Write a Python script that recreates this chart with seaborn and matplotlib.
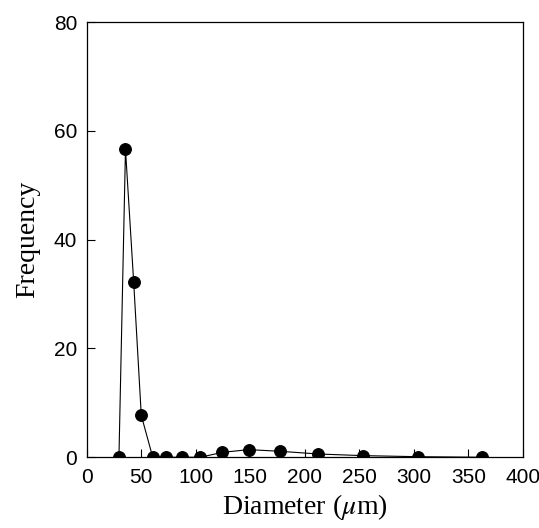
import numpy as np
import pandas as pd
import matplotlib
matplotlib.use("Agg")
import matplotlib.pyplot as plt
import seaborn as sns

# data
diameter = [29.5, 35.5, 43, 50, 60.5, 73, 87, 104, 124.5, 148.5, 177, 212, 253, 304, 363]
frequency = [0, 56.6, 32.3, 7.7, 0, 0, 0, 0, 0.9, 1.4, 1.1, 0.6, 0.3, 0.1, 0]

df = pd.DataFrame({"diameter": diameter, "frequency": frequency})

sns.set_style("ticks")
plt.rcParams["font.family"] = ["Liberation Sans", "DejaVu Sans"]
plt.rcParams["mathtext.fontset"] = "stix"

fig = plt.figure(figsize=(5.39, 5.28), dpi=100)
ax = fig.add_axes([0.161, 0.134, 0.809, 0.824])

sns.lineplot(data=df, x="diameter", y="frequency", color="black", linewidth=0.8,
             marker="o", markersize=8.5, markeredgecolor="black", ax=ax)

ax.set_xlim(0, 400)
ax.set_ylim(0, 80)
ax.set_xticks(np.arange(0, 401, 50))
ax.set_yticks(np.arange(0, 81, 20))
ax.tick_params(direction="in", length=6, width=0.8, labelsize=15,
               colors="black", labelcolor="black")
ax.tick_params(axis="x", pad=8)
ax.tick_params(axis="y", pad=7)
for s in ax.spines.values():
    s.set_linewidth(0.9)
    s.set_color("black")
    s.set_visible(True)

ax.set_xlabel("Diameter ($\\mu$m)", family="Liberation Serif", fontsize=20,
              labelpad=3, color="black")
ax.set_ylabel("Frequency", family="Liberation Serif", fontsize=20,
              labelpad=10, color="black")

fig.savefig("out.png", dpi=100)
